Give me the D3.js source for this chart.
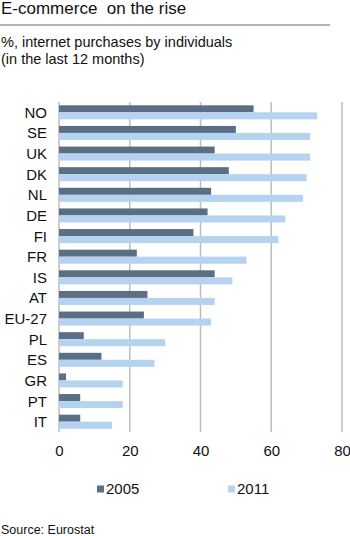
<!DOCTYPE html>
<html>
<head>
<meta charset="utf-8">
<script src="https://cdn.jsdelivr.net/npm/d3@7"></script>
<style>
  body { margin: 0; background: #fff; }
  svg { display: block; font-family: "Liberation Sans", Arial, sans-serif; }
  text { white-space: pre; }
</style>
</head>
<body>
<svg id="chart" width="350" height="536"></svg>
<script>
const categories = ["NO","SE","UK","DK","NL","DE","FI","FR","IS","AT","EU-27","PL","ES","GR","PT","IT"];
const values2005 = [55,50,44,48,43,42,38,22,44,25,24,7,12,2,6,6];
const values2011 = [73,71,71,70,69,64,62,53,49,44,43,30,27,18,18,15];
const seriesNames = ["2005","2011"];
const tickValues = [0,20,40,60,80];

const colors = { "2005": "#5b6f84", "2011": "#b5d2f0" };

const svg = d3.select("#chart");

// Heading and rule
svg.append("text").attr("x", 1).attr("y", 14)
  .attr("font-size", 17).attr("fill", "#111").text("E-commerce  on the rise");
svg.append("line").attr("x1", 0).attr("x2", 330).attr("y1", 25).attr("y2", 25)
  .attr("stroke", "#9a9a9a").attr("stroke-width", 1.5);
svg.append("text").attr("x", 1).attr("y", 47)
  .attr("font-size", 14.5).attr("fill", "#111").text("%, internet purchases by individuals");
svg.append("text").attr("x", 1).attr("y", 63.5)
  .attr("font-size", 14.5).attr("fill", "#111").text("(in the last 12 months)");

const x = d3.scaleLinear().domain([0, 80]).range([59, 342]);
const y = d3.scaleBand().domain(categories).range([102, 432])
  .paddingInner(0.32).paddingOuter(0.16);
const half = y.bandwidth() / 2;

// Vertical gridlines
svg.append("g").selectAll("line").data(tickValues).join("line")
  .attr("x1", d => x(d)).attr("x2", d => x(d))
  .attr("y1", 102).attr("y2", 432)
  .attr("stroke", "#bdbdbd").attr("stroke-width", 1.5);

// Bars
const rows = categories.map((c, i) => ({ c, v2005: values2005[i], v2011: values2011[i] }));
const g = svg.append("g");
g.selectAll("rect.a").data(rows).join("rect").attr("class", "a")
  .attr("x", x(0)).attr("y", d => y(d.c))
  .attr("width", d => x(d.v2005) - x(0)).attr("height", half)
  .attr("fill", colors["2005"]);
g.selectAll("rect.b").data(rows).join("rect").attr("class", "b")
  .attr("x", x(0)).attr("y", d => y(d.c) + half)
  .attr("width", d => x(d.v2011) - x(0)).attr("height", half)
  .attr("fill", colors["2011"]);

// Category labels
svg.append("g").selectAll("text").data(categories).join("text")
  .attr("x", 47).attr("y", d => y(d) + y.bandwidth() / 2 + 5.5)
  .attr("text-anchor", "end").attr("font-size", 15).attr("fill", "#111")
  .text(d => d);

// X axis tick labels
const xAxis = d3.axisBottom(x).tickValues(tickValues).tickSize(0).tickPadding(0);
const ax = svg.append("g").attr("transform", "translate(0,443)").call(xAxis);
ax.select(".domain").remove();
ax.selectAll("text").attr("font-size", 15).attr("fill", "#111")
  .attr("font-family", "Liberation Sans, Arial, sans-serif").attr("dy", "0.85em");

// Legend
const legendPos = [97, 228];
const lg = svg.append("g").selectAll("g").data(seriesNames).join("g")
  .attr("transform", (d, i) => `translate(${legendPos[i]},485.5)`);
lg.append("rect").attr("x", 0).attr("y", 0).attr("width", 7).attr("height", 7)
  .attr("fill", d => colors[d]);
lg.append("text").attr("x", 9).attr("y", 8.5).attr("font-size", 15).attr("fill", "#111")
  .text(d => d);

// Source
svg.append("text").attr("x", 1).attr("y", 534)
  .attr("font-size", 12.5).attr("fill", "#111").text("Source: Eurostat");
</script>
</body>
</html>
